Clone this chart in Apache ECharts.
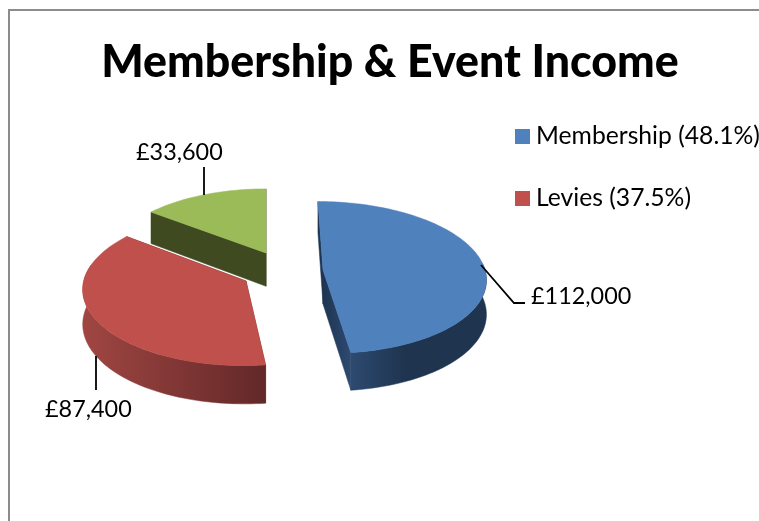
<!DOCTYPE html>
<html><head><meta charset="utf-8">
<style>html,body{margin:0;padding:0;background:#fff}#c{width:759px;height:521px}</style>
<script src="https://cdn.jsdelivr.net/npm/echarts@6/dist/echarts.min.js"></script>
</head><body><div id="c"></div>
<script>
const categories = ['Membership', 'Levies', 'Other'];
const values = [112000, 87400, 33600];
const valueLabels = ['£112,000', '£87,400', '£33,600'];
const legendLabels = ['Membership (48.1%)', 'Levies (37.5%)'];
const titleText = 'Membership & Event Income';

const FONT = 'Lato, Carlito, Calibri, sans-serif';
const COLORS = ['#4f81bd', '#bf504c', '#9bbb59'];
const CUT = ['#1f3552', '#6a2b29', '#3f4a20'];
const WALL = [['#2d4a70', '#1f344f'], ['#a04642', '#622828'], ['#3f4a20', '#3f4a20']];
const APEX = [[323, 270], [246, 281], [266, 253]];
const RADIUS = [162, 160, 158];
const LEADERS = [
  [[481, 265], [514, 303], [525, 303]],
  [[96, 356], [96, 390]],
  [[204, 167], [204, 195]]
];
const LABELPOS = [[531, 296], [45, 409], [136, 152]];
const VX = 266, VY = -500, H = 770, D = 1660, T = 34;

const total = values.reduce((a, b) => a + b, 0);
const starts = [];
values.reduce((acc, v, i) => { starts[i] = acc; return acc + v / total * 360; }, 0);
const ends = values.map((v, i) => starts[i] + v / total * 360);

function projector(i) {
  const [ax, ay] = APEX[i];
  const s0 = (ay - VY) / H;
  const Y0 = D * (1 / s0 - 1);
  const X0 = (ax - VX) / s0;
  return function (r, deg, depth) {
    const t = deg * Math.PI / 180;
    const X = X0 + r * Math.sin(t), Y = Y0 + r * Math.cos(t);
    const s = D / (D + Y);
    return [VX + X * s, VY + (H + (depth ? T : 0)) * s];
  };
}
function arc(p, r, a, b, depth) {
  const pts = [], n = Math.max(2, Math.ceil(Math.abs(b - a) / 1.5));
  for (let k = 0; k <= n; k++) pts.push(p(r, a + (b - a) * k / n, depth));
  return pts;
}
function renderSlice(i) {
  return function () {
    const p = projector(i), r = RADIUS[i], a = starts[i], b = ends[i];
    const kids = [];
    const poly = (points, fill) => kids.push({ type: 'polygon', shape: { points }, style: { fill, stroke: fill, lineWidth: 0.5 } });
    poly([p(0, 0, 0), p(r, a, 0), p(r, a, 1), p(0, 0, 1)], CUT[i]);
    poly([p(0, 0, 0), p(r, b, 0), p(r, b, 1), p(0, 0, 1)], i === 0
      ? new echarts.graphic.LinearGradient(0, 0, 1, 0, [{ offset: 0, color: '#1f3552' }, { offset: 1, color: '#2d4a70' }])
      : CUT[i]);
    const wa = Math.max(a, 85), wb = Math.min(b, 282);
    if (wb > wa) {
      poly(arc(p, r, wa, wb, 0).concat(arc(p, r, wb, wa, 1)),
        new echarts.graphic.LinearGradient(0, 0, 1, 0,
          [{ offset: 0, color: WALL[i][0] }, { offset: i === 0 ? 0.4 : 1, color: WALL[i][1] }, { offset: 1, color: WALL[i][1] }]));
    }
    poly([p(0, 0, 0)].concat(arc(p, r, a, b, 0)), COLORS[i]);
    kids.push({
      type: 'polyline', shape: { points: LEADERS[i] },
      style: { stroke: '#000', lineWidth: 1.8, fill: null }
    });
    kids.push({
      type: 'text', x: LABELPOS[i][0], y: LABELPOS[i][1],
      style: { text: valueLabels[i], font: '23.4px ' + FONT, fill: '#000', verticalAlign: 'middle' }
    });
    return { type: 'group', children: kids };
  };
}
const seriesNames = [legendLabels[0], legendLabels[1], categories[2]];
const order = [2, 1, 0];
const chart = echarts.init(document.getElementById('c'), null, { renderer: 'canvas' });
chart.setOption({
  animation: false,
  backgroundColor: '#fff',
  title: {
    text: titleText, left: 385, top: 35, textAlign: 'center',
    textStyle: { fontFamily: FONT, fontWeight: 900, fontSize: 44.7, color: '#000' }
  },
  legend: {
    data: legendLabels, orient: 'vertical', left: 510, top: 119, itemGap: 37,
    itemWidth: 15, itemHeight: 15, icon: 'rect', selectedMode: false,
    textStyle: { fontFamily: FONT, fontSize: 24.7, color: '#000', padding: [0, 0, 0, 1] }
  },
  graphic: [{
    type: 'rect', silent: true, z: -1,
    shape: { x: 9, y: 10, width: 900, height: 700 },
    style: { fill: 'none', stroke: '#8c8c8c', lineWidth: 2 }
  }],
  series: order.map(i => ({
    type: 'custom', name: seriesNames[i], coordinateSystem: 'none',
    itemStyle: { color: COLORS[i] }, clip: false, silent: true,
    data: [[values[i]]], renderItem: renderSlice(i)
  }))
});
</script></body></html>
